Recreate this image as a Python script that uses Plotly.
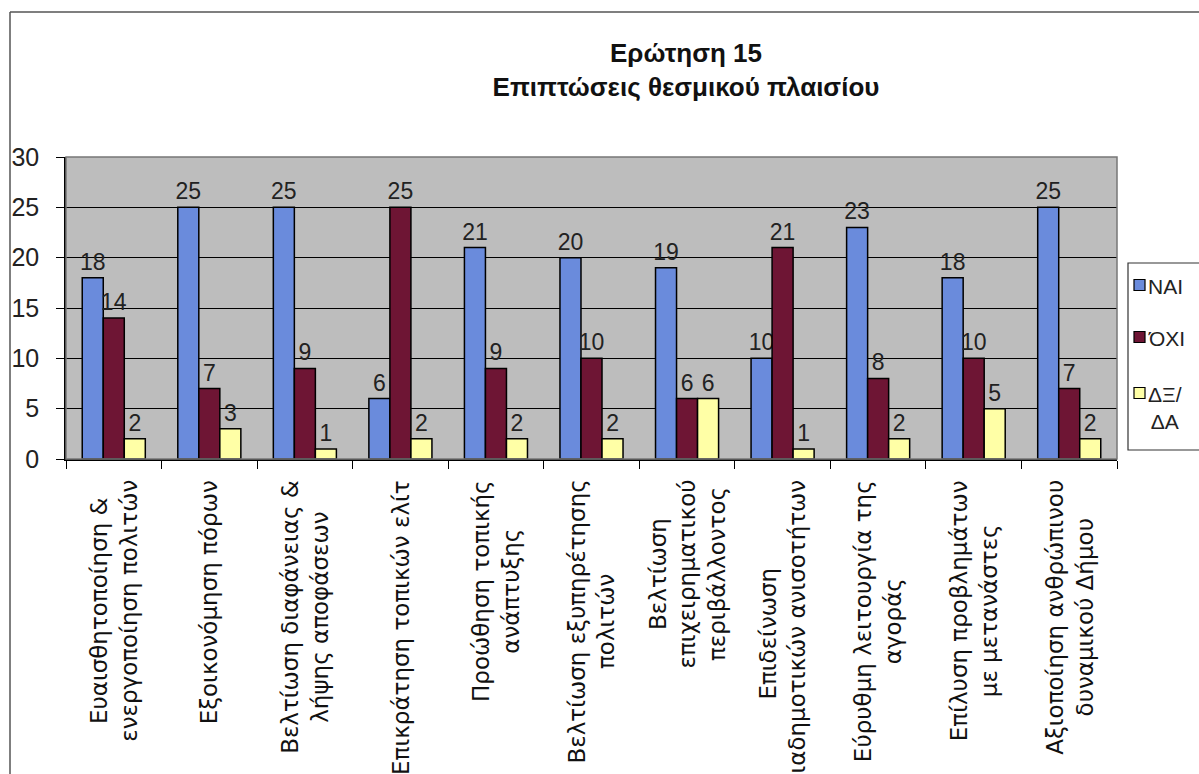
import plotly.graph_objects as go

categories = [
    "Ευαισθητοποίηση &<br>ενεργοποίηση πολιτών",
    "Εξοικονόμηση πόρων",
    "Βελτίωση διαφάνειας &<br>λήψης αποφάσεων",
    "Επικράτηση τοπικών ελίτ",
    "Προώθηση τοπικής<br>ανάπτυξης",
    "Βελτίωση εξυπηρέτησης<br>πολιτών",
    "Βελτίωση<br>επιχειρηματικού<br>περιβάλλοντος",
    "Επιδείνωση<br>διαδημοτικών ανισοτήτων",
    "Εύρυθμη λειτουργία της<br>αγοράς",
    "Επίλυση προβλημάτων<br>με μετανάστες",
    "Αξιοποίηση ανθρώπινου<br>δυναμικού Δήμου",
]
nai = [18, 25, 25, 6, 21, 20, 19, 10, 23, 18, 25]
oxi = [14, 7, 9, 25, 9, 10, 6, 21, 8, 10, 7]
dk = [2, 3, 1, 2, 2, 2, 6, 1, 2, 5, 2]

series_names = ["NAI", "ΌΧΙ", "ΔΞ/<br>ΔΑ"]
series_values = [nai, oxi, dk]
series_colors = ["#6a8bdc", "#6e1534", "#ffffa6"]

W, H = 1199, 774
L, R, T, B = 66, 1117, 157, 459
pw, ph = R - L, B - T


def px(x):
    return (x - L) / pw


def py(y):
    return (B - y) / ph


fig = go.Figure()
for name, vals, col in zip(series_names, series_values, series_colors):
    fig.add_trace(go.Bar(
        x=categories, y=vals, name=name,
        marker=dict(color=col, line=dict(color="black", width=1.5)),
        text=[str(v) for v in vals], textposition="outside",
        constraintext="none",
        textfont=dict(family="Liberation Sans, Arial", size=23, color="#222"),
        cliponaxis=False, showlegend=False, hoverinfo="skip",
    ))

# category labels, centred multi-line, rotated
for c in categories:
    fig.add_annotation(
        x=c, xref="x", y=0, yref="paper", yshift=-19,
        text=c, textangle=-90, showarrow=False,
        xanchor="center", yanchor="top", align="center",
        font=dict(family="DejaVu Sans", size=23, color="#111"),
    )

shapes = [
    # outer chart border (only top/left visible)
    dict(type="line", xref="paper", yref="paper",
         x0=px(10), x1=px(1199), y0=py(12), y1=py(12),
         line=dict(color="#555", width=1.5)),
    dict(type="line", xref="paper", yref="paper",
         x0=px(10), x1=px(10), y0=py(12), y1=py(774),
         line=dict(color="#555", width=1.5)),
    # plot area border
    dict(type="rect", xref="paper", yref="paper",
         x0=0, x1=1, y0=0, y1=1,
         line=dict(color="#777", width=1.5), layer="above"),
    # legend box
    dict(type="rect", xref="paper", yref="paper",
         x0=px(1128), x1=px(1215), y0=py(450), y1=py(263),
         line=dict(color="#333", width=1.2), fillcolor="white", layer="above"),
]

legend_y = [285, 337, 393]
for name, col, yc in zip(series_names, series_colors, legend_y):
    shapes.append(dict(type="rect", xref="paper", yref="paper",
                       x0=px(1134), x1=px(1145), y0=py(yc + 5.5), y1=py(yc - 5.5),
                       line=dict(color="black", width=1.2), fillcolor=col,
                       layer="above"))
    fig.add_annotation(
        x=px(1146), xref="paper", y=py(yc - 12), yref="paper",
        text=name, showarrow=False, xanchor="left", yanchor="top",
        align="center",
        font=dict(family="Liberation Sans, Arial", size=21, color="#222"),
    )

fig.update_layout(
    width=W, height=H,
    margin=dict(l=L, r=W - R, t=T, b=H - B, autoexpand=False),
    paper_bgcolor="white",
    plot_bgcolor="#bdbdbd",
    barmode="group",
    bargap=0.34,
    bargroupgap=0,
    font=dict(family="Liberation Sans, Arial", color="#222"),
    title=dict(
        text="Ερώτηση 15<br>Επιπτώσεις θεσμικού πλαισίου",
        x=686 / W, xanchor="center",
        y=1 - 62 / H, yanchor="top", yref="container",
        font=dict(family="Liberation Sans, Arial", size=26, color="#111", weight="bold"),
    ),
    showlegend=False,
    hovermode=False,
    shapes=shapes,
)

fig.update_xaxes(
    showticklabels=False, tickson="boundaries", ticks="outside",
    ticklen=8, tickcolor="black", showline=True, linecolor="black",
    linewidth=1.5, showgrid=False,
)
fig.update_yaxes(
    range=[0, 30], dtick=5, ticks="outside", ticklen=8, tickcolor="black",
    showline=True, linecolor="black", linewidth=1.5,
    showgrid=True, gridcolor="black", gridwidth=1,
    tickfont=dict(family="Liberation Sans, Arial", size=25, color="#222"),
    ticklabelstandoff=12, zeroline=False,
)

fig.write_html(
    "out.html",
    config={"displayModeBar": False},
    post_script="document.body.style.margin='0';document.body.style.overflow='hidden';",
)
